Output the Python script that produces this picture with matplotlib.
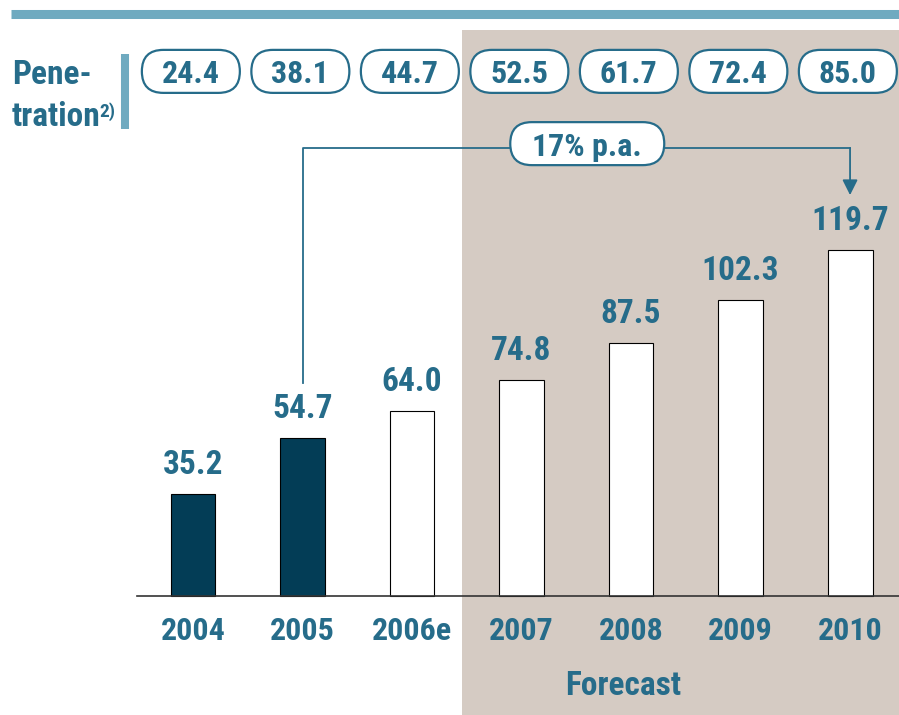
import matplotlib
matplotlib.use("Agg")
import matplotlib.pyplot as plt
from matplotlib.patches import FancyBboxPatch, Rectangle

# data --------------------------------------------------------------------------
years = ["2004", "2005", "2006e", "2007", "2008", "2009", "2010"]
volume = [35.2, 54.7, 64.0, 74.8, 87.5, 102.3, 119.7]
penetration = [24.4, 38.1, 44.7, 52.5, 61.7, 72.4, 85.0]
actual = [True, True, False, False, False, False, False]
cagr_label = "17% p.a."
cagr_from, cagr_to = 1, 6  # 2005 -> 2010

# style -------------------------------------------------------------------------
TEAL = "#266C8A"
LIGHT_TEAL = "#6FAAC0"
DARK = "#033D56"
SHADE = "#D5CBC3"
plt.rcParams["font.family"] = ["Roboto Condensed", "Barlow Condensed", "Liberation Sans", "DejaVu Sans"]
plt.rcParams["font.weight"] = "bold"

# pixels per data unit (x: one bar slot, y: one value unit)
PX_X = 109.5
PX_Y = 2.89
ASPECT = PX_X / PX_Y

fig = plt.figure(figsize=(8.99, 7.15), dpi=100)
ax = fig.add_axes([0, 0, 1, 1])
ax.set_xlim(-1.763, 6.447)
ax.set_ylim(-41.2, 206.2)
ax.axis("off")


def pill(x, y, w_px, h_px, text, size):
    w = w_px / PX_X
    h = h_px / PX_Y
    box = FancyBboxPatch((x - w / 2, y - h / 2), w, h,
                         boxstyle="round,pad=0,rounding_size=%f" % (h / ASPECT / 2),
                         mutation_aspect=ASPECT, facecolor="white",
                         edgecolor=TEAL, linewidth=1.6, zorder=5)
    ax.add_patch(box)
    ax.text(x, y, text, ha="center", va="center_baseline", fontsize=size,
            color=TEAL, fontweight="bold", zorder=6)


# forecast shading
ax.add_patch(Rectangle((2.457, -60), 5, 195.8 + 60, facecolor=SHADE,
                       edgecolor="none", zorder=0))

# top rule
ax.plot([-1.662, 6.447], [201.2, 201.2], color=LIGHT_TEAL, lw=6.5,
        solid_capstyle="butt", zorder=1)

# bars
x = list(range(len(years)))
colors = [DARK if a else "white" for a in actual]
ax.bar(x, volume, width=0.41, color=colors, edgecolor="black", linewidth=0.8, zorder=3)
ax.plot([-0.511, 6.447], [0, 0], color="#333333", lw=1.2, zorder=4)

for xi, v, yr in zip(x, volume, years):
    ax.annotate("%.1f" % v, (xi, v), xytext=(0, 14.5), textcoords="offset points",
                ha="center", va="baseline", fontsize=24, color=TEAL, fontweight="bold")
    ax.text(xi, -11.1, yr, ha="center", va="center_baseline", fontsize=23,
            color=TEAL, fontweight="bold")

ax.text(3.93, -30.1, "Forecast", ha="center", va="center_baseline", fontsize=24,
        color=TEAL, fontweight="bold")

# penetration row
ax.text(-1.653, 177.2, "Pene-", ha="left", va="baseline", fontsize=24,
        color=TEAL, fontweight="bold")
tra = ax.text(-1.653, 162.6, "tration", ha="left", va="baseline", fontsize=24,
              color=TEAL, fontweight="bold")
ax.annotate("2)", xy=(1, 1), xycoords=tra, xytext=(-1, -1), textcoords="offset points",
            ha="left", va="top", fontsize=14, color=TEAL, fontweight="bold")
ax.plot([-0.621, -0.621], [161.6, 187.5], color=LIGHT_TEAL, lw=5.8,
        solid_capstyle="butt", zorder=2)

for xi, p in zip(x, penetration):
    pill(xi - 0.02, 181.5, 98, 43, "%.1f" % p, 23)

# growth bracket 2005 -> 2010
top_y = 155.0
gap = 19.0
ax.plot([cagr_from, cagr_from, cagr_to], [volume[cagr_from] + gap, top_y, top_y],
        color=TEAL, lw=1.3, zorder=2)
ax.annotate("", xy=(cagr_to, volume[cagr_to] + gap), xytext=(cagr_to, top_y),
            arrowprops=dict(arrowstyle="-|>", color=TEAL, lw=1.3,
                            mutation_scale=23, shrinkA=0, shrinkB=0), zorder=2)
pill(3.6, 156.5, 154, 43, cagr_label, 23)

fig.savefig("out.png", dpi=100)
